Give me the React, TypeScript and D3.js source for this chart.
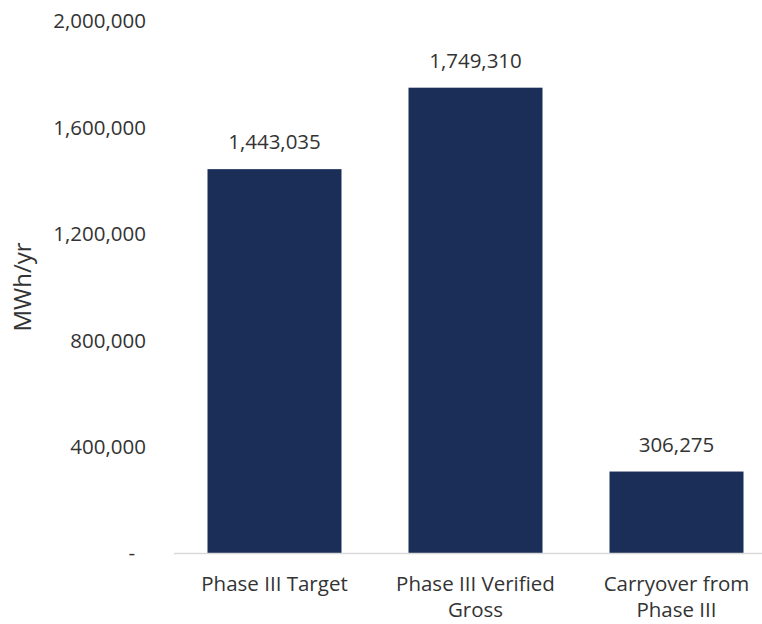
import React from "react";
import * as d3 from "d3";

const categories: string[] = ["Phase III Target", "Phase III Verified Gross", "Carryover from Phase III"];
const values: number[] = [1443035, 1749310, 306275];
const yTicks: number[] = [0, 400000, 800000, 1200000, 1600000, 2000000];
const yAxisTitle = "MWh/yr";

const W = 762;
const H = 624;
const FONT = "'Open Sans', 'Noto Sans', sans-serif";
const FS = 20.5;
const TEXT = "#333333";
const BAR = "#1a2e58";

const fmt = d3.format(",");

function measure(text: string): number {
  const c = document.createElement("canvas").getContext("2d");
  if (!c) return text.length * FS * 0.5;
  c.font = `${FS}px 'Open Sans'`;
  return c.measureText(text).width;
}

function wrap(text: string, maxW: number): string[] {
  const words = text.split(" ");
  const lines: string[] = [];
  let cur = "";
  for (const w of words) {
    const t = cur ? cur + " " + w : w;
    if (cur && measure(t) > maxW) {
      lines.push(cur);
      cur = w;
    } else cur = t;
  }
  if (cur) lines.push(cur);
  return lines;
}

export default function App() {
  const x = d3.scaleBand<string>().domain(categories).range([174, 777]).paddingInner(1 / 3).paddingOuter(1 / 6);
  const y = d3.scaleLinear().domain([0, 2000000]).range([553, 21]);
  const tickLabel = (v: number) => (v === 0 ? "-" : fmt(v));

  return (
    <svg width={W} height={H} style={{ position: "absolute", left: 0, top: 0, background: "#fff" }} fontFamily={FONT}>
      <rect x={0} y={0} width={W} height={H} fill="#fff" />
      {yTicks.map((t) => (
        <text
          key={t}
          x={t === 0 ? 135 : 146}
          y={y(t)}
          dy="0.36em"
          textAnchor="end"
          fontSize={FS}
          fill={TEXT}
        >
          {tickLabel(t)}
        </text>
      ))}
      <text
        transform={`translate(${22},${(y(0) + y(2000000)) / 2}) rotate(-90)`}
        dy="0.36em"
        textAnchor="middle"
        fontSize={24}
        fill={TEXT}
      >
        {yAxisTitle}
      </text>
      {categories.map((c, i) => {
        const bx = x(c)!;
        const by = y(values[i]);
        return (
          <g key={c}>
            <rect x={bx} y={by} width={x.bandwidth()} height={y(0) - by} fill={BAR} />
            <text x={bx + x.bandwidth() / 2} y={by - 20} textAnchor="middle" fontSize={FS} fill={TEXT}>
              {fmt(values[i])}
            </text>
          </g>
        );
      })}
      <line x1={174} x2={777} y1={y(0) + 0.5} y2={y(0) + 0.5} stroke="#d9d9d9" strokeWidth={1.5} />
      {categories.map((c) => {
        const lines = wrap(c, x.step() - 10);
        const cx = x(c)! + x.bandwidth() / 2;
        return (
          <text key={c} textAnchor="middle" fontSize={FS} fill={TEXT}>
            {lines.map((l, j) => (
              <tspan key={j} x={cx} y={591 + j * 26}>
                {l}
              </tspan>
            ))}
          </text>
        );
      })}
    </svg>
  );
}
